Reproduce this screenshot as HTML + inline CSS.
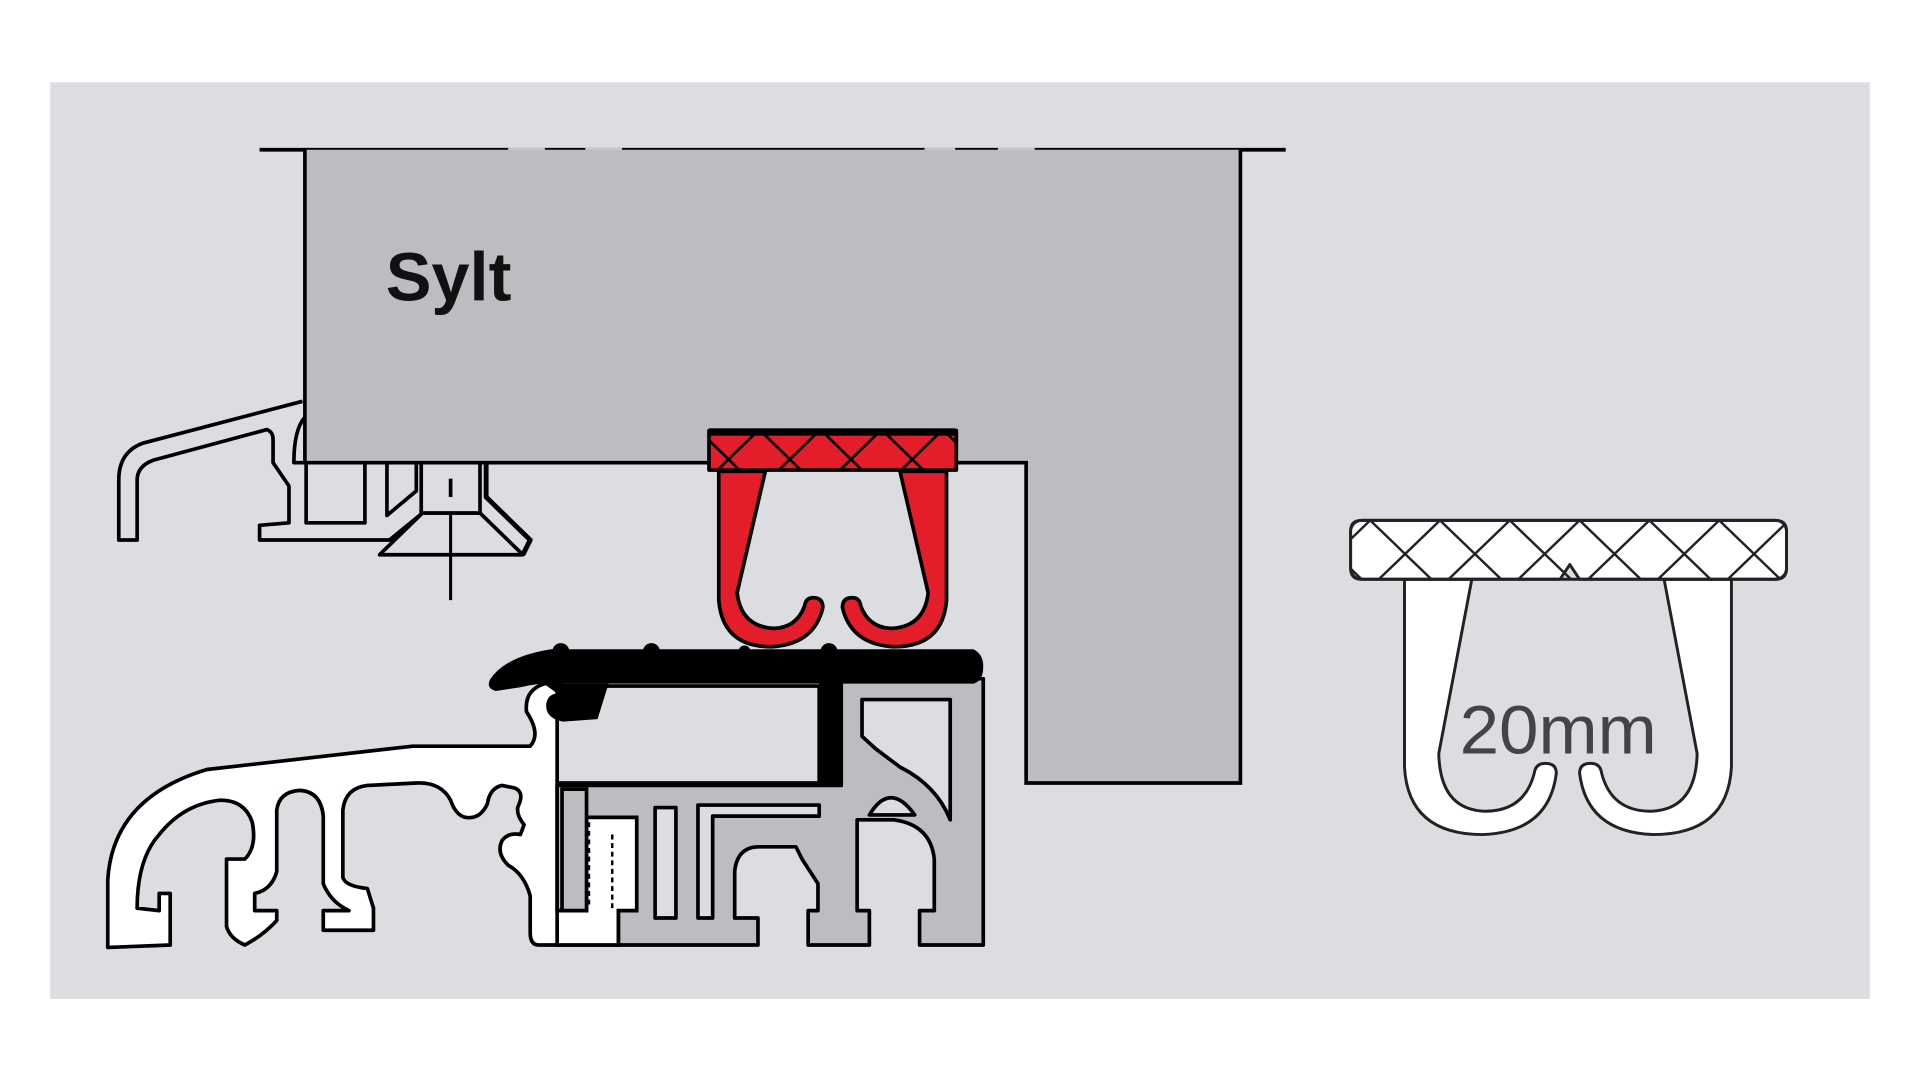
<!DOCTYPE html>
<html><head><meta charset="utf-8"><style>
html,body{margin:0;padding:0;background:#fff;width:1920px;height:1080px;overflow:hidden}
svg{display:block}
</style></head><body>
<svg width="1920" height="1080" viewBox="0 0 1568 880" preserveAspectRatio="none" xmlns="http://www.w3.org/2000/svg">
<defs>
<clipPath id="cr"><rect x="1103" y="424" width="356" height="48" rx="9"/></clipPath>
<clipPath id="cred"><rect x="579" y="350" width="202" height="34"/></clipPath>
</defs>
<rect x="0" y="0" width="1568" height="880" fill="#fff"/>
<rect x="41" y="67" width="1486" height="747" fill="#dcdde1"/>

<!-- bracket (under body) -->
<g fill="#dcdde1" stroke="#000" stroke-width="3" stroke-linejoin="round">
<path d="M247,327 L117,361 Q97,368 97,391 L97,440 L112,440 L112,391 Q112,380 125,375 L218,350 Q223,352 223,358 L223,377 L236,396 L236,426 L212,428 L212,440 L318,440 L345,418 L392,418 L427,452 L310,452 L345,418" fill="none"/>
<path d="M249,340 Q240,350 240,377 L249,377" fill="none"/>
<path d="M250,377 L250,426 L298,426 L298,377" fill="none"/>
<path d="M316,377 L316,420 L340,400 L340,377" fill="none"/>
<rect x="344" y="377" width="48" height="41"/>
<path d="M397,377 L397,405 L433,440 L427,452" fill="none" stroke-width="4"/>
</g>
<line x1="368" y1="390" x2="368" y2="405" stroke="#000" stroke-width="3"/>
<line x1="368" y1="418" x2="368" y2="489" stroke="#000" stroke-width="2.5"/>

<!-- top line -->
<line x1="212" y1="122" x2="1050" y2="122" stroke="#000" stroke-width="3"/>
<g stroke="#c8c9cd" stroke-width="3.5">
<line x1="415" y1="122" x2="445" y2="122"/><line x1="478" y1="122" x2="508" y2="122"/>
<line x1="755" y1="122" x2="780" y2="122"/><line x1="815" y1="122" x2="845" y2="122"/>
</g>
<!-- main body -->
<path d="M249,122 L249,377 L838,377 L838,638 L1013,638 L1013,122" fill="#bbbdc1" stroke="#000" stroke-width="3"/>
<text x="315" y="245" font-family="Liberation Sans, sans-serif" font-weight="bold" font-size="56" fill="#111">Sylt</text>

<!-- red seal -->
<g fill="#e31e2a" stroke="#000" stroke-width="3" stroke-linejoin="round">
<path d="M587,384 L587,489 Q590,527 630,527 Q665,525 672,495 Q672,487 664,487 Q658,487 657,494 Q650,512 631,512 Q605,510 602,483 L625,384 Z"/>
<path d="M773,384 L773,489 Q770,527 730,527 Q695,525 688,495 Q688,487 696,487 Q702,487 703,494 Q710,512 729,512 Q755,510 758,483 L735,384 Z"/>
<rect x="579" y="351" width="202" height="32"/>
</g>
<g clip-path="url(#cred)" stroke="#000" stroke-width="2.2">
<path d="M570,350 L605,384 M620,350 L655,384 M670,350 L705,384 M720,350 L755,384 M770,350 L805,384 M620,350 L585,384 M670,350 L635,384 M720,350 L685,384 M770,350 L735,384 M820,350 L785,384 M570,350 L535,384"/>
</g>
<rect x="579" y="349" width="202" height="6" fill="#000"/>

<!-- white profile -->
<path d="M88,772 L88,717 Q92,650 169,627 L337,608 L433,608 Q442,598 430,580 Q428,562 445,557 L458,557 L458,640 L455,640 L455,742 L505,742 L505,770 L440,770 Q433,770 433,760 L433,730 Q428,712 415,705 Q405,695 410,685 Q415,678 425,680 L428,672 Q420,662 424,655 Q428,645 420,642 L410,640 Q400,642 398,655 Q392,668 380,666 Q372,664 368,652 Q360,637 340,638 L300,640 Q282,642 280,660 L280,715 Q282,722 300,724 L305,740 L305,758 L264,758 L264,742 L285,742 Q270,735 264,720 L264,665 Q262,645 245,644 Q228,645 226,660 L226,710 Q222,725 208,728 L208,742 L226,742 L226,750 Q215,762 200,770 Q188,765 185,755 L185,700 L200,700 Q210,690 206,670 Q200,652 180,652 Q150,655 130,680 Q112,700 112,740 L130,742 L130,728 L139,728 L139,770 Z" fill="#fff" stroke="#000" stroke-width="3" stroke-linejoin="round"/>

<!-- gray profile -->
<path d="M455,640 L687,640 L687,553 L803,553 L803,770 L751,770 L751,742 L763,742 L763,700 Q760,672 730,668 L700,668 L700,742 L710,742 L710,770 L660,770 L660,742 L668,742 L668,720 L655,700 L650,690 L620,690 Q602,690 600,710 L600,748 L619,748 L619,770 L505,770 L505,742 L455,742 Z" fill="#bbbdc1" stroke="#000" stroke-width="3" stroke-linejoin="round"/>
<g fill="#dcdde1" stroke="#000" stroke-width="3" stroke-linejoin="round">
<path d="M704,570 L776,570 L776,668 Q765,640 735,625 L715,610 L704,600 Z"/>
<path d="M710,664 Q727,636 747,664 Z"/>
<rect x="535" y="658" width="17" height="90"/>
<path d="M570,748 L570,656 L669,656 L669,665 L582,665 L582,748 Z"/>
</g>
<path d="M479,666 L520,666 L520,742 L505,742 L505,770 L455,770 L455,742 L479,742 Z" fill="#fff" stroke="#000" stroke-width="3"/>
<path d="M459,643 L479,643 L479,742 L459,742 Z" fill="#bbbdc1" stroke="#000" stroke-width="3"/>
<path d="M481,670 L481,740 M500,680 L500,740" stroke="#000" stroke-width="2" stroke-dasharray="4 3"/>

<!-- inner box -->
<rect x="455" y="559" width="214" height="79" fill="#dcdde1" stroke="#000" stroke-width="3"/>
<rect x="669" y="555" width="18" height="84" fill="#000"/>
<path d="M444,557 L497,557 L488,586 L460,588 Q447,586 446,576 Q446,566 455,565 Z" fill="#000"/>
<path d="M450,529 L795,529 Q803,533 803,543 Q803,555 795,557 L460,557 Q440,556 425,560 L405,563 Q397,561 400,554 Q412,535 450,529 Z" fill="#000"/>
<circle cx="458" cy="531" r="7" fill="#000"/><circle cx="532" cy="531" r="7" fill="#000"/><circle cx="677" cy="531" r="7" fill="#000"/><circle cx="608" cy="531" r="5" fill="#000"/>

<!-- right seal -->
<g fill="#fff" stroke="#222" stroke-width="2.4" stroke-linejoin="round">
<path d="M1147,472 L1147,625 Q1150,680 1211,680 Q1265,678 1271,630 Q1271,622 1262,622 Q1254,622 1253,630 Q1245,661 1213,661 Q1176,660 1175,614 L1202,472 Z"/>
<path d="M1414,472 L1414,625 Q1411,680 1350,680 Q1296,678 1290,630 Q1290,622 1299,622 Q1307,622 1308,630 Q1316,661 1348,661 Q1385,660 1386,614 L1359,472 Z"/>
<path d="M1112,424 L1450,424 Q1459,424 1459,433 L1459,463 Q1459,472 1450,472 L1290,472 L1282,460 L1274,472 L1112,472 Q1103,472 1103,463 L1103,433 Q1103,424 1112,424 Z"/>
</g>
<g clip-path="url(#cr)" stroke="#222" stroke-width="2">
<path d="M1062,424 L1112,472 M1119,424 L1169,472 M1176,424 L1226,472 M1233,424 L1283,472 M1290,424 L1340,472 M1347,424 L1397,472 M1404,424 L1454,472 M1461,424 L1511,472 M1119,424 L1069,472 M1176,424 L1126,472 M1233,424 L1183,472 M1290,424 L1240,472 M1347,424 L1297,472 M1404,424 L1354,472 M1461,424 L1411,472 M1518,424 L1468,472"/>
</g>
<rect x="1103" y="424" width="356" height="48" rx="9" fill="none" stroke="#222" stroke-width="2.4"/>
<text x="1192" y="614" font-family="Liberation Sans, sans-serif" font-size="56" fill="#444" textLength="161" lengthAdjust="spacingAndGlyphs">20mm</text>
</svg>
</body></html>
